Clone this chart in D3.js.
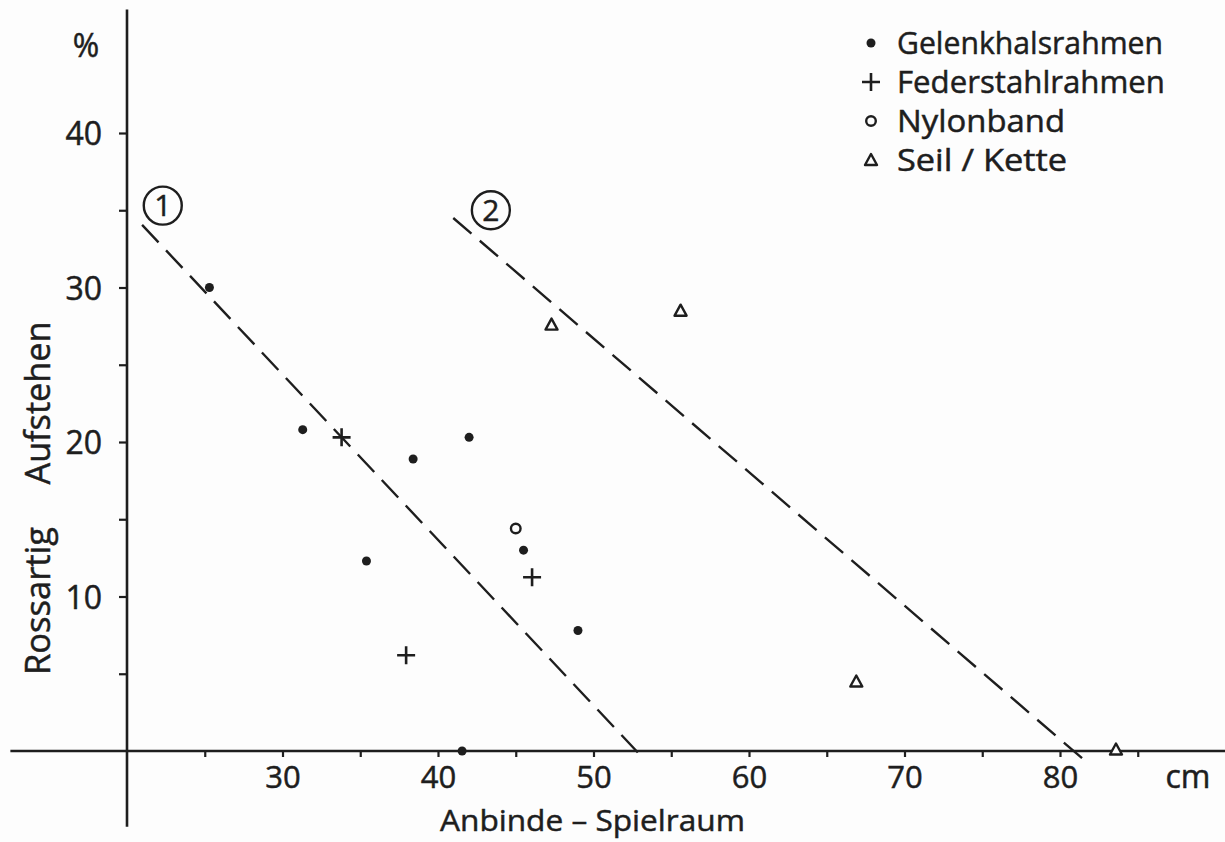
<!DOCTYPE html>
<html>
<head>
<meta charset="utf-8">
<script src="https://cdn.jsdelivr.net/npm/d3@7"></script>
<style>
  html, body { margin: 0; padding: 0; background: #fdfdfd; }
  svg { display: block; }
  text { font-family: "Open Sans", "DejaVu Sans", sans-serif; fill: #1e1e1e; stroke: #1e1e1e; stroke-width: 0.5px; }
</style>
</head>
<body>
<svg id="chart" width="1225" height="842"></svg>
<script>
// ---------- data ----------
const xTicks = [25, 30, 35, 40, 45, 50, 55, 60, 65, 70, 75, 80, 85];
const xTickLabels = ["30", "40", "50", "60", "70", "80"];
const yTicks = [5, 10, 15, 20, 25, 30, 35, 40];
const yTickLabels = ["10", "20", "30", "40"];

const gelenkX = [25.3, 31.3, 38.4, 42.0, 35.4, 45.5, 49.0, 41.55];
const gelenkY = [30.0, 20.8, 18.9, 20.3, 12.3, 13.0, 7.8, 0.0];
const federX = [33.8, 46.05, 37.95];
const federY = [20.3, 11.25, 6.2];
const nylonX = [45.0];
const nylonY = [14.4];
const seilX = [47.3, 55.6, 66.9, 83.6];
const seilY = [27.6, 28.5, 4.5, 0.1];

const line1X = [20.97, 52.9];
const line1Y = [34.05, -0.15];
const line2X = [40.98, 81.7];
const line2Y = [34.5, -0.71];

const legendLabels = ["Gelenkhalsrahmen", "Federstahlrahmen", "Nylonband", "Seil / Kette"];
const legendSymbols = ["dot", "plus", "circle", "triangle"];

// ---------- setup ----------
const svg = d3.select("#chart");
const ink = "#1e1e1e";
const x = d3.scaleLinear().domain([20, 80]).range([127, 1060]);
const y = d3.scaleLinear().domain([0, 40]).range([751, 133]);

// axes lines
svg.append("line").attr("x1", x(20)).attr("x2", x(20))
  .attr("y1", y(48.0)).attr("y2", y(-4.9))
  .attr("stroke", ink).attr("stroke-width", 2.6);
svg.append("line").attr("x1", x(12.5)).attr("x2", x(92))
  .attr("y1", y(0)).attr("y2", y(0))
  .attr("stroke", ink).attr("stroke-width", 2.4);

// x axis ticks via d3 axis
const xAxis = d3.axisBottom(x).tickValues(xTicks).tickSize(6)
  .tickFormat(d => xTickLabels.includes(String(d)) ? String(d) : "");
const gx = svg.append("g").attr("transform", `translate(0,${y(0)})`).call(xAxis);
gx.select(".domain").remove();
gx.selectAll(".tick line").attr("stroke", ink).attr("stroke-width", 2.2);
gx.selectAll(".tick text").attr("font-size", 31).attr("dy", 0).attr("y", 37)
  .style("font-family", '"Open Sans", sans-serif').attr("fill", ink);

// y axis ticks via d3 axis
const yAxis = d3.axisLeft(y).tickValues(yTicks).tickSize(8)
  .tickFormat(d => yTickLabels.includes(String(d)) ? String(d) : "");
const gy = svg.append("g").attr("transform", `translate(${x(20)},0)`).call(yAxis);
gy.select(".domain").remove();
gy.selectAll(".tick line").attr("stroke", ink).attr("stroke-width", 2.2);
gy.selectAll(".tick text").attr("font-size", 32).attr("x", -25).attr("dy", "0.36em")
  .style("font-family", '"Open Sans", sans-serif').attr("fill", ink);

// unit labels
svg.append("text").attr("x", 86).attr("y", 57).attr("text-anchor", "middle")
  .attr("font-size", 32).text("%");
svg.append("text").attr("x", 1188).attr("y", 788).attr("text-anchor", "middle")
  .attr("font-size", 32).text("cm");

// axis titles
svg.append("text").attr("x", 440).attr("y", 831).attr("font-size", 30)
  .attr("textLength", 305).attr("lengthAdjust", "spacingAndGlyphs")
  .text("Anbinde – Spielraum");
svg.append("text").attr("transform", "translate(50,403) rotate(-90)")
  .attr("text-anchor", "middle").attr("font-size", 34)
  .attr("textLength", 163).attr("lengthAdjust", "spacingAndGlyphs").text("Aufstehen");
svg.append("text").attr("transform", "translate(50,601) rotate(-90)")
  .attr("text-anchor", "middle").attr("font-size", 34)
  .attr("textLength", 148).attr("lengthAdjust", "spacingAndGlyphs").text("Rossartig");

// dashed reference lines
function refLine(xs, ys) {
  const pts = xs.map((v, i) => [x(v), y(ys[i])]);
  svg.append("path").attr("d", d3.line()(pts))
    .attr("fill", "none").attr("stroke", ink).attr("stroke-width", 2.4)
    .attr("stroke-dasharray", "24,11");
}
refLine(line1X, line1Y);
refLine(line2X, line2Y);

// circled numbers
function circled(cx, cy, label) {
  svg.append("circle").attr("cx", cx).attr("cy", cy).attr("r", 19)
    .attr("fill", "none").attr("stroke", ink).attr("stroke-width", 2.4);
  svg.append("text").attr("x", cx).attr("y", cy).attr("dy", "0.36em")
    .attr("text-anchor", "middle").attr("font-size", 30).text(label);
}
circled(x(22.3), y(35.3), "1");
circled(x(43.4), y(35.0), "2");

// markers
function drawMarker(g, type, px, py) {
  if (type === "dot") {
    g.append("circle").attr("cx", px).attr("cy", py).attr("r", 4.5).attr("fill", ink);
  } else if (type === "plus") {
    g.append("path").attr("d", `M${px-9},${py}H${px+9}M${px},${py-9}V${py+9}`)
      .attr("stroke", ink).attr("stroke-width", 2.6).attr("fill", "none");
  } else if (type === "circle") {
    g.append("circle").attr("cx", px).attr("cy", py).attr("r", 4.8)
      .attr("fill", "none").attr("stroke", ink).attr("stroke-width", 2.4);
  } else if (type === "triangle") {
    g.append("path").attr("d", `M${px},${py-6}L${px+6},${py+5}L${px-6},${py+5}Z`)
      .attr("fill", "#fdfdfd").attr("stroke", ink).attr("stroke-width", 2.4)
      .attr("stroke-linejoin", "round");
  }
}
const gm = svg.append("g");
gelenkX.forEach((v, i) => drawMarker(gm, "dot", x(v), y(gelenkY[i])));
federX.forEach((v, i) => drawMarker(gm, "plus", x(v), y(federY[i])));
nylonX.forEach((v, i) => drawMarker(gm, "circle", x(v), y(nylonY[i])));
seilX.forEach((v, i) => drawMarker(gm, "triangle", x(v), y(seilY[i])));

// legend
const lg = svg.append("g");
const legendWidths = [266, 268, 168, 170];
legendLabels.forEach((lab, i) => {
  const base = 54 + i * 39;
  drawMarker(lg, legendSymbols[i], 871, base - 11);
  lg.append("text").attr("x", 897).attr("y", base).attr("font-size", 31)
    .attr("textLength", legendWidths[i]).attr("lengthAdjust", "spacingAndGlyphs")
    .text(lab);
});
</script>
</body>
</html>
